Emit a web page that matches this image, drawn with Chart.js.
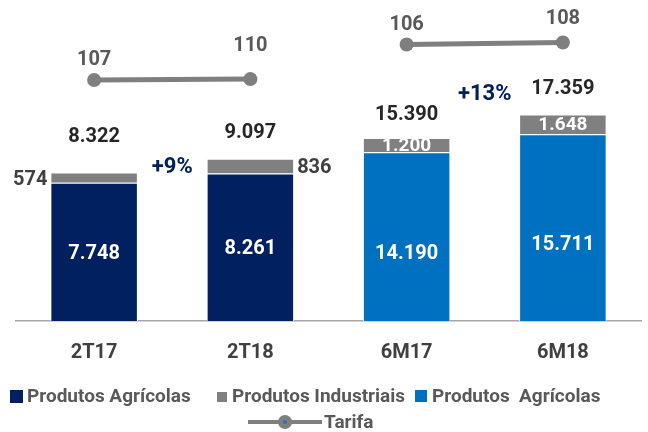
<!DOCTYPE html>
<html>
<head>
<meta charset="utf-8">
<script src="https://cdn.jsdelivr.net/npm/chart.js@4.4.0/dist/chart.umd.min.js"></script>
<style>
  body { margin: 0; background: #fff; }
  #wrap { position: relative; width: 648px; height: 432px; }
  #chart { position: absolute; left: 0; top: 0; }
  .leg { position: absolute; font: bold 19px Roboto, sans-serif; color: #595959; white-space: nowrap; line-height: 20px; }
  .sq { position: absolute; }
</style>
</head>
<body>
<div id="wrap">
  <canvas id="chart" width="648" height="432"></canvas>
  <div class="sq" style="left:10px;top:390px;width:13px;height:13px;background:#002060"></div>
  <div class="leg" style="left:27px;top:386px">Produtos Agrícolas</div>
  <div class="sq" style="left:217px;top:392px;width:10px;height:10px;background:#808080"></div>
  <div class="leg" style="left:232px;top:386px">Produtos Industriais</div>
  <div class="sq" style="left:415px;top:390px;width:12px;height:12px;background:#0070C0"></div>
  <div class="leg" style="left:432px;top:386px">Produtos&nbsp; Agrícolas</div>
  <div class="sq" style="left:248px;top:420px;width:74px;height:4px;background:#7f7f7f"></div>
  <div class="sq" style="left:278px;top:415px;width:14px;height:14px;border-radius:50%;background:#7f7f7f"></div>
  <div class="sq" style="left:283px;top:420px;width:4px;height:4px;border-radius:50%;background:#2f6fc0"></div>
  <div class="leg" style="left:324px;top:412px">Tarifa</div>
</div>
<script>
// dados
const categories = ['2T17', '2T18', '6M17', '6M18'];
const agricolas = [7748, 8261, 14190, 15711];
const industriais = [574, 836, 1200, 1648];
const tarifa = [107, 110, 106, 108];
const variacao = ['+9%', '+13%'];

const NAVY = '#002060';
const BLUE = '#0070C0';
const GRAY = '#808080';
const LINE = '#7f7f7f';
const FONT = 'Roboto, sans-serif';

const fmt = (v) => String(v).replace(/\B(?=(\d{3})+(?!\d))/g, '.');
const pick = (arr, keep) => arr.map((v, i) => (keep(i) ? v : null));
const isQ = (i) => i < 2;
const isM = (i) => i >= 2;

// ajustes manuais de posicao dos rotulos (px)
const agriShift = [2, 2, 17, 17];
const totalGap = [36, 26, 23, 26];
const tarifaGap = [20, 33, 20, 24];
const varShift = [2, -32];

const labelsPlugin = {
  id: 'valueLabels',
  afterDatasetsDraw(chart) {
    const { ctx } = chart;
    ctx.save();
    ctx.textBaseline = 'middle';

    categories.forEach((c, i) => {
      const agri = chart.getDatasetMeta(isQ(i) ? 0 : 2).data[i];
      const ind = chart.getDatasetMeta(isQ(i) ? 1 : 3).data[i];
      const half = agri.width / 2;

      ctx.fillStyle = '#fff';
      ctx.font = 'bold 20px ' + FONT;
      ctx.textAlign = 'center';
      ctx.fillText(fmt(agricolas[i]), agri.x, (agri.y + agri.base) / 2 + agriShift[i]);

      const indMid = (ind.y + ind.base) / 2;
      if (i === 0) {
        ctx.fillStyle = '#404040';
        ctx.textAlign = 'right';
        ctx.fillText(fmt(industriais[i]), agri.x - half - 3, indMid + 2);
      } else if (i === 1) {
        ctx.fillStyle = '#404040';
        ctx.textAlign = 'left';
        ctx.fillText(fmt(industriais[i]), agri.x + half + 3, indMid + 2);
      } else {
        ctx.fillStyle = '#fff';
        ctx.font = 'bold 19px ' + FONT;
        ctx.textAlign = 'center';
        ctx.fillText(fmt(industriais[i]), agri.x, indMid + 1);
      }

      ctx.fillStyle = '#262626';
      ctx.font = 'bold 20px ' + FONT;
      ctx.textAlign = 'center';
      ctx.fillText(fmt(agricolas[i] + industriais[i]), agri.x, ind.y - totalGap[i]);

      const pt = chart.getDatasetMeta(isQ(i) ? 4 : 5).data[i];
      ctx.fillStyle = '#595959';
      ctx.fillText(String(tarifa[i]), pt.x, pt.y - tarifaGap[i]);
    });

    ctx.fillStyle = NAVY;
    ctx.font = 'bold 22px ' + FONT;
    ctx.textAlign = 'center';
    variacao.forEach((txt, k) => {
      const a = chart.getDatasetMeta(k === 0 ? 1 : 3).data[k * 2];
      const b = chart.getDatasetMeta(k === 0 ? 1 : 3).data[k * 2 + 1];
      ctx.fillText(txt, (a.x + b.x) / 2, (a.y + b.y) / 2 + varShift[k]);
    });
    ctx.restore();
  }
};

const barBase = {
  type: 'bar',
  stack: 'all',
  borderColor: '#ffffff',
  borderWidth: 1,
  barPercentage: 0.56,
  categoryPercentage: 1,
};

const lineBase = {
  type: 'line',
  borderColor: LINE,
  borderWidth: 5,
  pointRadius: 7,
  pointBackgroundColor: LINE,
  pointBorderColor: LINE,
  pointBorderWidth: 0,
  spanGaps: false,
};

new Chart(document.getElementById('chart'), {
  data: {
    labels: categories,
    datasets: [
      { ...barBase, label: 'Produtos Agrícolas', data: pick(agricolas, isQ), backgroundColor: NAVY, yAxisID: 'yA' },
      { ...barBase, label: 'Produtos Industriais', data: pick(industriais, isQ), backgroundColor: GRAY, yAxisID: 'yA' },
      { ...barBase, label: 'Produtos  Agrícolas', data: pick(agricolas, isM), backgroundColor: BLUE, yAxisID: 'yB' },
      { ...barBase, label: 'Produtos Industriais', data: pick(industriais, isM), backgroundColor: GRAY, yAxisID: 'yB' },
      { ...lineBase, label: 'Tarifa', data: pick(tarifa, isQ), yAxisID: 'tA' },
      { ...lineBase, label: 'Tarifa', data: pick(tarifa, isM), yAxisID: 'tB' },
    ],
  },
  options: {
    responsive: false,
    animation: false,
    layout: { padding: { left: 16, right: 0, top: 0, bottom: 47 } },
    scales: {
      x: {
        stacked: true,
        grid: { display: false, drawTicks: false },
        border: { display: true, color: '#a6a6a6', width: 1.5 },
        ticks: { color: '#404040', font: { family: FONT, size: 20, weight: 'bold' }, padding: 20 },
      },
      yA: { stacked: true, display: false, min: 0, max: 17600 },
      yB: { stacked: true, display: false, min: 0, max: 26400 },
      tA: { display: false, min: -709, max: 354 },
      tB: { display: false, min: -174, max: 144 },
    },
    plugins: {
      legend: { display: false },
      tooltip: { enabled: false },
    },
  },
  plugins: [labelsPlugin],
});
</script>
</body>
</html>
